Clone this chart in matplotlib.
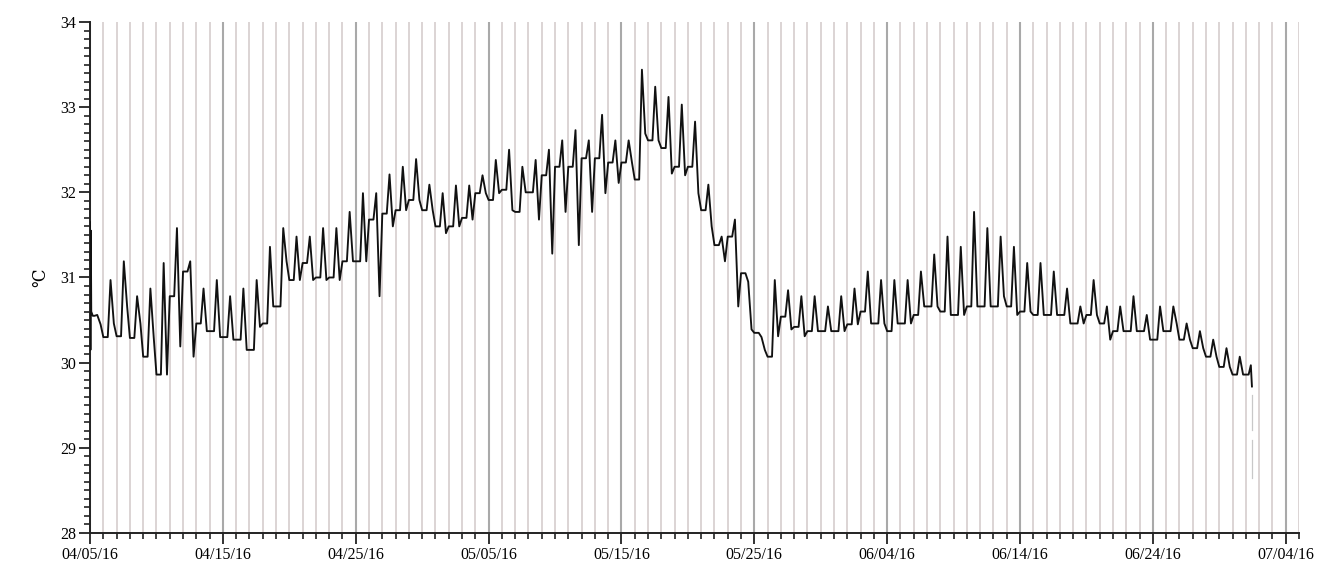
import datetime as dt

import matplotlib
matplotlib.use("Agg")
import matplotlib.pyplot as plt
import matplotlib.dates as mdates
from matplotlib.ticker import MultipleLocator, FixedLocator

start = dt.datetime(2016, 4, 5)

# daily readings (deg C): night level, afternoon peak, evening level
night = [30.55, 30.30, 30.31, 30.29, 30.07, 29.86, 30.78, 31.07, 30.46, 30.37,
         30.30, 30.27, 30.15, 30.46, 30.66, 30.97, 31.17, 31.00, 31.00, 31.19,
         31.19, 31.68, 31.75, 31.79, 31.91, 31.79, 31.60, 31.60, 31.70, 31.99,
         31.91, 32.03, 31.77, 32.00, 32.20, 32.30, 32.30, 32.40, 32.40, 32.35,
         32.35, 32.15, 32.61, 32.52, 32.30, 32.30, 31.79, 31.38, 31.48, 31.05,
         30.35, 30.07, 30.54, 30.42, 30.37, 30.37, 30.37, 30.45, 30.60, 30.46,
         30.37, 30.46, 30.56, 30.66, 30.60, 30.56, 30.66, 30.66, 30.66, 30.66,
         30.60, 30.56, 30.56, 30.56, 30.46, 30.56, 30.46, 30.37, 30.37, 30.37,
         30.27, 30.37, 30.27, 30.17, 30.07, 29.95, 29.86, 29.86]
peak = [30.56, 30.97, 31.19, 30.78, 30.87, 31.17, 31.58, 31.19, 30.87, 30.97,
        30.78, 30.87, 30.97, 31.36, 31.58, 31.48, 31.48, 31.58, 31.58, 31.77,
        31.99, 31.99, 32.21, 32.30, 32.39, 32.09, 31.99, 32.08, 32.08, 32.20,
        32.38, 32.50, 32.30, 32.38, 32.50, 32.61, 32.73, 32.61, 32.91, 32.61,
        32.61, 33.44, 33.24, 33.12, 33.03, 32.83, 32.09, 31.48, 31.68, 30.95,
        30.30, 30.97, 30.85, 30.78, 30.78, 30.66, 30.78, 30.87, 31.07, 30.97,
        30.97, 30.97, 31.07, 31.27, 31.48, 31.36, 31.77, 31.58, 31.48, 31.36,
        31.17, 31.17, 31.07, 30.87, 30.66, 30.97, 30.66, 30.66, 30.78, 30.56,
        30.66, 30.66, 30.46, 30.37, 30.27, 30.17, 30.07, 29.97]
evening = [30.45, 30.46, 30.66, 30.46, 30.30, 29.86, 30.19, 30.07, 30.37, 30.30,
           30.27, 30.15, 30.42, 30.66, 31.19, 30.97, 30.97, 30.97, 30.97, 31.19,
           31.19, 30.78, 31.60, 31.79, 31.91, 31.79, 31.52, 31.60, 31.68, 31.99,
           31.99, 31.79, 32.00, 31.68, 31.28, 31.77, 31.38, 31.77, 31.99, 32.11,
           32.35, 32.69, 32.61, 32.22, 32.20, 31.99, 31.60, 31.19, 30.66, 30.39,
           30.15, 30.31, 30.39, 30.31, 30.37, 30.37, 30.37, 30.45, 30.46, 30.46,
           30.46, 30.46, 30.66, 30.66, 30.56, 30.56, 30.66, 30.66, 30.78, 30.56,
           30.60, 30.56, 30.56, 30.46, 30.46, 30.56, 30.27, 30.37, 30.37, 30.27,
           30.37, 30.46, 30.27, 30.17, 30.07, 29.95, 29.86, 29.72]

# sensor spike right after logging started
first_vals = [31.65, 30.15, 31.55, 30.60]
# faint trace left after the logger stopped (nan = break)
tail_vals = [29.62, 29.21, float("nan"), 29.09, 28.65]

t = []
v = []
for k, val in enumerate(first_vals):
    t.append(k * 0.03)
    v.append(val)
n = len(night)
for i in range(n):
    hours = [5, 8, 13, 19] if i == 0 else [0, 8, 13, 19]
    if i == n - 1:
        hours = [0, 5, 9, 11]
    t += [i + h / 24 for h in hours]
    v += [night[i], night[i], peak[i], evening[i]]

x = [mdates.date2num(start + dt.timedelta(days=d)) for d in t]
x_end = x[-1]

fig = plt.figure(figsize=(13.36, 5.64), dpi=100)
ax = fig.add_axes([0.0674, 0.055, 0.9049, 0.906])

ax.plot(x, v, color="#111111", lw=1.35, zorder=3)
ax.plot([x_end - 0.03] * len(tail_vals), tail_vals, color="#c8c8c8",
        lw=0.9, zorder=2)

x0 = mdates.date2num(start)
ax.set_xlim(x0, x0 + 91)
ax.set_ylim(28, 34)

majors = [x0 + 10 * k for k in range(10)]
ax.xaxis.set_major_locator(FixedLocator(majors))
ax.xaxis.set_minor_locator(MultipleLocator(1))
ax.xaxis.set_major_formatter(mdates.DateFormatter("%m/%d/%y"))
ax.yaxis.set_major_locator(MultipleLocator(1))
ax.yaxis.set_minor_locator(MultipleLocator(0.1))

ax.grid(which="minor", axis="x", color="#d9d1d1", lw=1.3)
ax.grid(which="major", axis="x", color="#a9a9a9", lw=1.5)
ax.set_axisbelow(True)

for side in ("top", "right"):
    ax.spines[side].set_visible(False)
for side in ("left", "bottom"):
    ax.spines[side].set_linewidth(1.4)
    ax.spines[side].set_color("#222222")

ax.tick_params(which="major", length=8, width=1.3, color="#222222",
               labelsize=11.5, pad=2)
ax.tick_params(which="minor", length=4.5, width=1.2, color="#222222")
for lab in ax.get_xticklabels() + ax.get_yticklabels():
    lab.set_family("Liberation Serif")

ax.set_ylabel("℃", family=["DejaVu Serif", "DejaVu Sans"], fontsize=12,
              labelpad=8)

fig.savefig("out.png", dpi=100, facecolor="white")
